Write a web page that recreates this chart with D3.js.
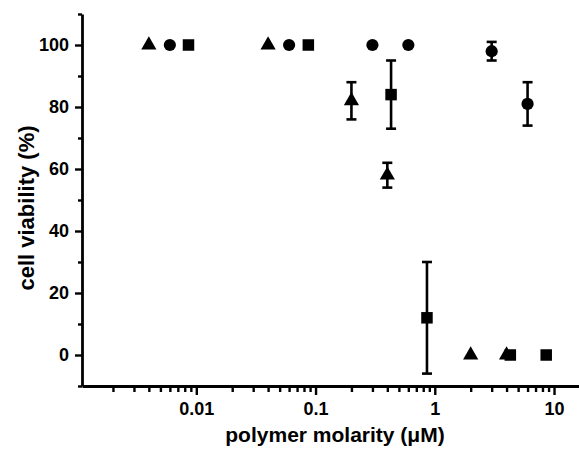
<!DOCTYPE html>
<html>
<head>
<meta charset="utf-8">
<script src="https://cdn.jsdelivr.net/npm/d3@7"></script>
<style>
  html, body { margin: 0; padding: 0; background: #fff; }
  text { font-family: "Liberation Sans", Arial, sans-serif; font-weight: bold; fill: #000; }
</style>
</head>
<body>
<svg id="chart" width="579" height="450"></svg>
<script>
// ---- data ----
const triX   = [0.004, 0.04, 0.2, 0.4, 2, 4];
const triY   = [100, 100, 82, 58, 0, 0];
const triErr = [0, 0, 6, 4, 0, 0];

const cirX   = [0.006, 0.06, 0.3, 0.6, 3, 6];
const cirY   = [100, 100, 100, 100, 98, 81];
const cirErr = [0, 0, 0, 0, 3, 7];

const sqX    = [0.0086, 0.087, 0.43, 0.86, 4.3, 8.6];
const sqY    = [100, 100, 84, 12, 0, 0];
const sqErr  = [0, 0, 11, 18, 0, 0];

const xMajorTicks = [0.01, 0.1, 1, 10];
const xTickLabels = ["0.01", "0.1", "1", "10"];
const yMajorTicks = [0, 20, 40, 60, 80, 100];
const yMinorTicks = [-10, 10, 30, 50, 70, 90, 110];

const xLabel = "polymer molarity (μM)";
const yLabel = "cell viability (%)";

// ---- layout ----
const svg = d3.select("#chart");
const plotLeft = 82, plotRight = 579, plotTop = 14, plotBottom = 386;

const x = d3.scaleLog().domain([0.0011, 16.2]).range([plotLeft, plotRight]);
const y = d3.scaleLinear().domain([-10, 110]).range([plotBottom, plotTop]);

const xMinorTicks = [];
[0.001, 0.01, 0.1, 1, 10].forEach(dec => {
  for (let k = 2; k <= 9; k++) {
    const v = dec * k;
    if (v > 0.0011 && v < 16.2) xMinorTicks.push(v);
  }
});

// minor x ticks
const gxMinor = svg.append("g").attr("transform", `translate(0,${plotBottom})`)
  .call(d3.axisBottom(x).tickValues(xMinorTicks).tickSize(6).tickSizeOuter(0).tickFormat(""));
gxMinor.select(".domain").remove();
// major x ticks
const gx = svg.append("g").attr("transform", `translate(0,${plotBottom})`)
  .call(d3.axisBottom(x).tickValues(xMajorTicks).tickSize(9).tickSizeOuter(0)
    .tickPadding(7).tickFormat((d, i) => xTickLabels[i]));

// minor y ticks
const gyMinor = svg.append("g").attr("transform", `translate(${plotLeft},0)`)
  .call(d3.axisLeft(y).tickValues(yMinorTicks).tickSize(4).tickSizeOuter(0).tickFormat(""));
gyMinor.select(".domain").remove();
// major y ticks
const gy = svg.append("g").attr("transform", `translate(${plotLeft},0)`)
  .call(d3.axisLeft(y).tickValues(yMajorTicks).tickSize(7).tickSizeOuter(0).tickPadding(6));

svg.selectAll(".domain").attr("stroke", "#000").attr("stroke-width", 2.8);
svg.selectAll(".tick line").attr("stroke", "#000").attr("stroke-width", 2.4);
svg.selectAll(".tick text").style("font-size", "18px")
  .style("font-family", '"Liberation Sans", Arial, sans-serif').style("font-weight", "bold");

// axis labels
svg.append("text").attr("x", 335).attr("y", 442).attr("text-anchor", "middle")
  .style("font-size", "21px").text(xLabel);
svg.append("text").attr("transform", "translate(34,208) rotate(-90)").attr("text-anchor", "middle")
  .style("font-size", "22px").text(yLabel);

// ---- marks ----
function series(xs, ys, es) { return xs.map((v, i) => ({x: v, y: ys[i], e: es[i]})); }
const tri = series(triX, triY, triErr);
const cir = series(cirX, cirY, cirErr);
const sq  = series(sqX, sqY, sqErr);

const gErr = svg.append("g").attr("stroke", "#000").attr("stroke-width", 2.6);
[tri, cir, sq].forEach(s => {
  s.filter(d => d.e > 0).forEach(d => {
    const cx = x(d.x), y1 = y(d.y + d.e), y2 = y(d.y - d.e);
    gErr.append("line").attr("x1", cx).attr("x2", cx).attr("y1", y1).attr("y2", y2);
    gErr.append("line").attr("x1", cx - 5).attr("x2", cx + 5).attr("y1", y1).attr("y2", y1);
    gErr.append("line").attr("x1", cx - 5).attr("x2", cx + 5).attr("y1", y2).attr("y2", y2);
  });
});

svg.append("g").selectAll("path").data(tri).join("path")
  .attr("transform", d => `translate(${x(d.x)},${y(d.y)})`)
  .attr("d", d3.symbol(d3.symbolTriangle, 100)).attr("fill", "#000");

svg.append("g").selectAll("circle").data(cir).join("circle")
  .attr("cx", d => x(d.x)).attr("cy", d => y(d.y)).attr("r", 6.1).attr("fill", "#000");

const sqSide = 11.5;
svg.append("g").selectAll("rect").data(sq).join("rect")
  .attr("x", d => x(d.x) - sqSide / 2).attr("y", d => y(d.y) - sqSide / 2)
  .attr("width", sqSide).attr("height", sqSide).attr("fill", "#000");
</script>
</body>
</html>
